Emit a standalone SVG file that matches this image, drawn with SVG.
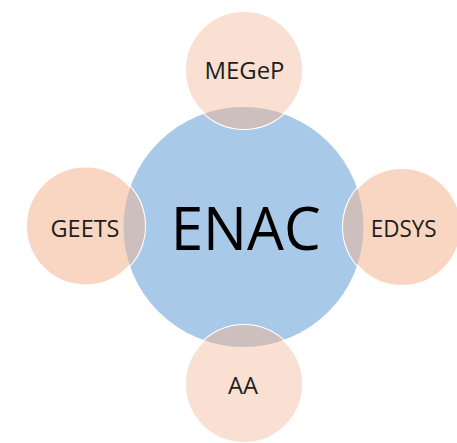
<svg xmlns="http://www.w3.org/2000/svg" width="457" height="443" viewBox="0 0 457 443">
<style>
.sat{stroke:#ffffff;stroke-width:2}
.ov{fill:#CCBFBD}
.lbl{font-family:"Open Sans","Liberation Sans",sans-serif;font-size:23.5px;fill:#1e1e1e;text-anchor:middle}
.big{font-family:"Open Sans","Liberation Sans",sans-serif;font-size:60px;fill:#000;text-anchor:middle}
</style>
<defs>
<clipPath id="cc"><circle cx="243.5" cy="227" r="120"/></clipPath>
</defs>
<rect width="457" height="443" fill="#fff"/>
<g id="enac">
<circle cx="243.5" cy="227" r="120" fill="#A9C9E8"/>
</g>
<g id="megep">
<circle class="sat" cx="244" cy="70" r="59" fill="#F9E0D2"/>
<circle class="ov" cx="244" cy="70" r="59" clip-path="url(#cc)"/>
<text class="lbl" x="244.5" y="79" textLength="80" lengthAdjust="spacingAndGlyphs">MEGeP</text>
</g>
<g id="geets">
<circle class="sat" cx="85.5" cy="226" r="59.5" fill="#F8D6C1"/>
<circle class="ov" cx="85.5" cy="226" r="59.5" clip-path="url(#cc)"/>
<text class="lbl" x="85" y="236.5" textLength="69" lengthAdjust="spacingAndGlyphs">GEETS</text>
</g>
<g id="edsys">
<circle class="sat" cx="402" cy="227" r="59" fill="#F8D6C1"/>
<circle class="ov" cx="402" cy="227" r="59" clip-path="url(#cc)"/>
<text class="lbl" x="403.7" y="236.5" textLength="66" lengthAdjust="spacingAndGlyphs">EDSYS</text>
</g>
<g id="aa">
<circle class="sat" cx="244" cy="384" r="59" fill="#F9E0D2"/>
<circle class="ov" cx="244" cy="384" r="59" clip-path="url(#cc)"/>
<text class="lbl" x="243" y="394" textLength="30" lengthAdjust="spacingAndGlyphs">AA</text>
</g>
<g id="enac-label">
<text class="big" x="245.7" y="250" textLength="150" lengthAdjust="spacingAndGlyphs">ENAC</text>
</g>
<g id="connectors"></g>
</svg>
